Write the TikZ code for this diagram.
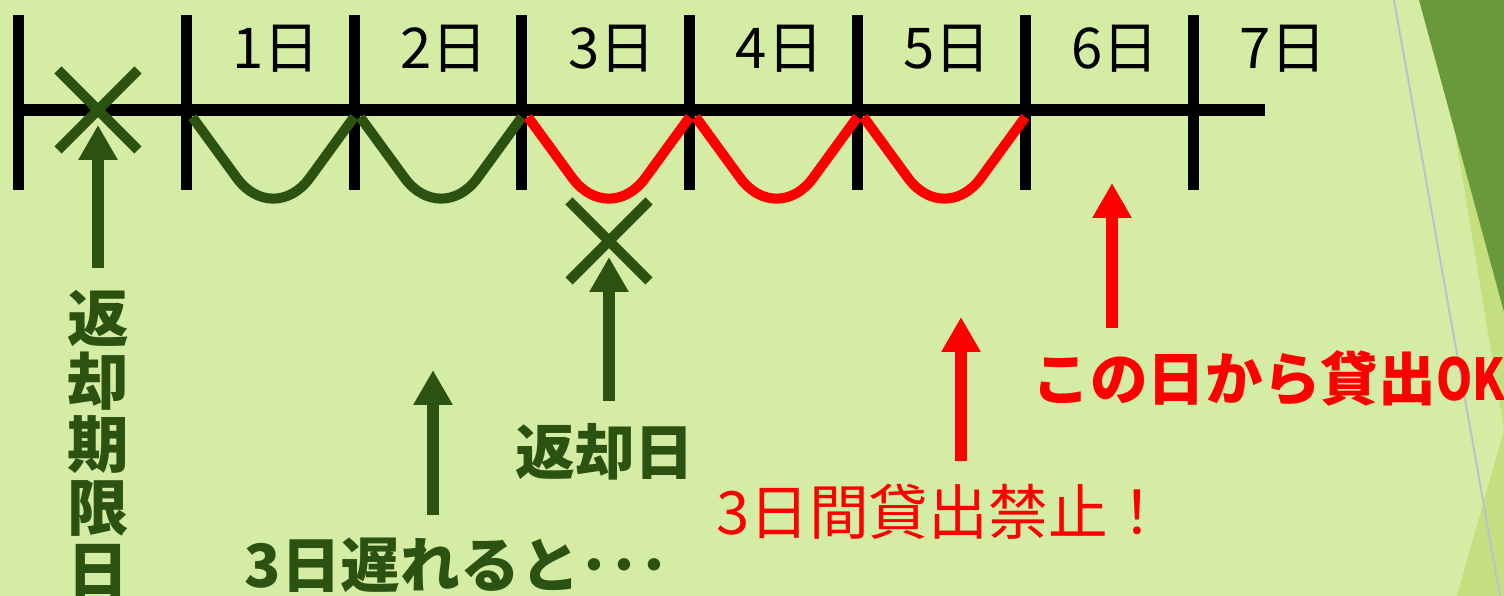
\documentclass[tikz,border=0pt]{standalone}
\usepackage{fontspec}
\newfontfamily\jpfont{Noto Sans CJK JP}
\newfontfamily\jpfontc[FakeStretch=0.8]{Noto Sans CJK JP}
\usetikzlibrary{arrows.meta,shapes.misc}
\definecolor{fond}{HTML}{D5ECA5}
\definecolor{vert}{HTML}{2C5212}
\definecolor{vertfonce}{HTML}{6A993C}
\definecolor{vertclair}{HTML}{C3DF7F}
\definecolor{gris}{HTML}{BFC0CF}
\definecolor{rouge}{HTML}{FF0000}
\begin{document}
\begin{tikzpicture}[
  trait/.style={line width=0.11cm},
  boucle/.style={line width=0.1cm,rounded corners=0.62cm},
  croix/.style={cross out,draw=vert,line width=0.1cm,minimum size=0.7cm,inner sep=0pt},
  fleche/.style={line width=0.12cm,-{Triangle[width=0.37cm,length=0.35cm]}},
  jour/.style={font=\jpfont\fontsize{16}{18}\selectfont},
  etiq/.style={inner sep=0.22cm,font=\jpfont\bfseries\fontsize{17}{18}\selectfont},
  texte/.style={inner sep=0.22cm,font=\jpfont\fontsize{17}{18}\selectfont}
]
% Fond
\fill[fond] (0,0) rectangle (15.04,-5.96);
\useasboundingbox (0,0) rectangle (15.04,-5.96);
\fill[vertclair] (14.33,0) -- (15.04,-4.30) -- (15.04,0) -- cycle;
\fill[vertfonce] (14.19,0) -- (15.04,-3.12) -- (15.04,0) -- cycle;
\fill[vertclair] (14.57,-5.96) -- (15.04,-4.30) -- (15.04,-5.96) -- cycle;
\draw[gris,line width=0.02cm] (13.94,0) -- (15.00,-5.96);
% Axe et graduations
\foreach \i in {0,...,7}{
  \coordinate (t\i) at ({0.185+1.678*\i},-1.10);
  \draw[trait] (t\i) ++(0,0.95) -- ++(0,-1.75);
}
\coordinate (fin) at (12.65,-1.10);
\draw[line width=0.12cm] (t0) -- (fin);
% Jours
\foreach \i in {1,...,7}
  \node[jour] (j\i) at ({0.185+1.678*\i+0.9},-0.49) {{\i}日};
% Boucles
\foreach \i/\j/\c in {1/2/vert,2/3/vert,3/4/rouge,4/5/rouge,5/6/rouge}
  \draw[boucle,\c] ([xshift=0.06cm,yshift=-0.07cm]t\i) -- ([xshift=0.87cm,yshift=-1.18cm]t\i) -- ([yshift=-0.07cm]t\j);
% Croix
\node[croix] (echeance) at (0.98,-1.10) {};
\node[croix] (rendu) at (6.09,-2.41) {};
% Textes
\node[etiq,text=vert,align=center,font=\jpfont\bfseries\fontsize{17.5}{17.9}\selectfont,anchor=north] (limite) at (0.98,-2.68) {返\\却\\期\\限\\日};
\node[etiq,text=vert,anchor=north] (retour) at (6.05,-4.01) {返却日};
\node[etiq,text=vert,anchor=north] (retard) at (4.57,-5.15) {3日遅れると･･･};
\node[texte,text=rouge,anchor=north] (interdit) at (9.42,-4.61) {3日間貸出禁止！};
\node[etiq,text=rouge,anchor=north west,font=\jpfont\bfseries\fontsize{16.4}{18}\selectfont] (ok) at (10.10,-3.28) {この日から貸出{\jpfontc OK}};
% Fleches
\coordinate (p1) at ([yshift=-0.15cm]echeance.center);
\coordinate (p2) at ([yshift=-0.16cm]rendu.center);
\coordinate (p3) at (4.33,-3.70);
\coordinate (p4) at (9.61,-3.17);
\coordinate (p5) at (11.12,-1.83);
\draw[fleche,vert] (limite.north) -- (p1);
\draw[fleche,vert] (retour.north -| p2) -- (p2);
\draw[fleche,vert] (retard.north -| p3) -- (p3);
\draw[fleche,rouge] (interdit.north -| p4) -- (p4);
\draw[fleche,rouge] (ok.north -| p5) -- (p5);
\end{tikzpicture}
\end{document}
